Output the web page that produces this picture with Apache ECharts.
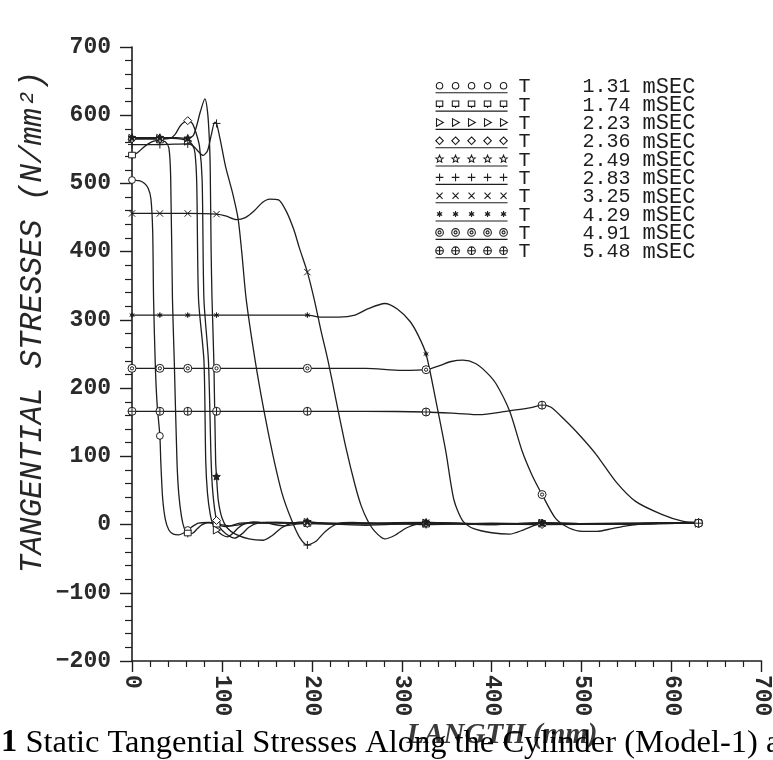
<!DOCTYPE html>
<html>
<head>
<meta charset="utf-8">
<script src="https://cdn.jsdelivr.net/npm/echarts@6/dist/echarts.min.js"></script>
<style>
html,body{margin:0;padding:0;background:#fff;}
#c{width:773px;height:760px;}
</style>
</head>
<body>
<div id="c"></div>
<script>
// ---- data (x: length mm, y: tangential stress N/mm^2) ----
const seriesNames = ['1.31','1.74','2.23','2.36','2.49','2.83','3.25','4.29','4.91','5.48'];
const markerX = [0,31,62,94,195,327,456,630];
const xTicks = [0,100,200,300,400,500,600,700];
const yTicks = [-200,-100,0,100,200,300,400,500,600,700];

const t131 = [[0,505],[8,504],[14,500],[18,493],[21,478],[23,430],[24,330],[26,230],[28,175],[31,130],[32,93],[34,40],[37,8],[41,-8],[46,-14],[52,-15],[58,-12],[62,-8],[67,-3],[74,2],[84,3],[94,1],[110,-2],[130,2],[160,3],[195,2],[250,1],[327,2],[400,1],[456,2],[540,1],[630,3]];
const t174 = [[0,541],[6,545],[12,552],[18,558],[24,562],[31,563],[37,561],[41,552],[43,510],[45,330],[47,240],[50,93],[52,45],[55,12],[58,-5],[62,-13],[67,-13],[72,-7],[78,0],[86,3],[94,0],[105,-3],[120,2],[150,3],[195,1],[260,2],[327,0],[400,2],[456,1],[540,2],[630,2]];
const t223 = [[0,566],[31,566],[45,566],[55,565],[62,562],[67,557],[70,545],[72,500],[74,330],[80,240],[82,93],[84,45],[87,15],[90,0],[94,-8],[100,-15],[106,-18],[112,-13],[118,-5],[125,1],[135,4],[150,2],[170,-2],[195,3],[260,1],[327,2],[400,0],[456,2],[540,1],[630,2]];
const t236 = [[0,565],[31,565],[42,566],[48,572],[54,585],[62,592],[67,588],[71,575],[75,555],[78,505],[80,330],[85,240],[88,93],[90,45],[94,6],[98,-5],[104,-13],[114,-20],[122,-14],[130,-4],[140,2],[160,3],[195,2],[260,-1],[327,2],[400,1],[456,0],[540,1],[630,2]];
const t249 = [[0,567],[31,567],[50,567],[62,566],[68,570],[72,585],[76,605],[81,624],[84,605],[86,565],[87,520],[88,400],[89,330],[91,240],[93,93],[94,70],[96,35],[100,10],[106,-5],[115,-14],[130,-21],[146,-23],[156,-16],[166,-5],[178,2],[195,4],[220,1],[260,2],[327,3],[400,1],[456,2],[540,1],[630,3]];
const t283 = [[0,557],[31,557],[62,558],[68,555],[73,548],[79,541],[84,548],[88,570],[92,590],[94,588],[98,565],[104,525],[112,485],[118,448],[122,400],[127,330],[137,240],[147,165],[157,100],[167,45],[177,8],[186,-18],[195,-30],[205,-24],[215,-10],[228,1],[245,3],[280,1],[327,2],[400,0],[456,2],[540,1],[630,2]];
const t325 = [[0,456],[31,456],[62,456],[94,455],[105,452],[116,447],[126,450],[136,460],[145,472],[153,477],[163,476],[172,458],[180,432],[186,406],[195,370],[203,328],[210,285],[218,240],[228,175],[238,112],[248,58],[255,27],[262,6],[270,-10],[281,-21],[292,-16],[305,-5],[318,1],[327,3],[380,1],[456,2],[540,1],[630,3]];
const t429 = [[0,307],[31,307],[62,307],[94,307],[150,307],[195,307],[210,304],[230,304],[248,307],[262,316],[281,324],[295,316],[309,298],[318,278],[327,250],[338,181],[349,107],[358,36],[368,5],[380,-6],[400,-12],[420,-14],[435,-8],[446,-2],[456,2],[500,1],[570,2],[630,3]];
const t491 = [[0,229],[31,229],[62,229],[94,229],[195,229],[260,229],[300,226],[327,227],[342,233],[355,239],[368,241],[382,236],[395,222],[405,206],[420,166],[434,107],[445,72],[456,44],[471,9],[486,-5],[501,-10],[517,-10],[534,-6],[550,-2],[570,1],[600,2],[630,2]];
const t548 = [[0,166],[31,166],[62,166],[94,166],[195,166],[260,166],[327,165],[360,163],[386,161],[416,166],[442,171],[456,175],[466,172],[480,155],[497,132],[516,103],[538,63],[560,34],[589,15],[612,5],[630,2]];
const seriesData = [t131,t174,t223,t236,t249,t283,t325,t429,t491,t548];

// ---- marker shapes ----
const shapes = ['circle','square','triRight','diamond','star','plus','cross','asterisk','circleDot','circlePlus'];
const filled = [false,false,false,false,true,false,false,true,false,false];

function f(n){return (Math.round(n*100)/100).toString();}
function circ(cx,cy,r){return `M${f(cx+r)},${f(cy)} A${f(r)},${f(r)} 0 1,1 ${f(cx-r)},${f(cy)} A${f(r)},${f(r)} 0 1,1 ${f(cx+r)},${f(cy)} Z `;}
function shapePath(kind,cx,cy,r){
  switch(kind){
    case 'circle': return circ(cx,cy,r*0.85) + `M${f(cx)},${f(cy+r*0.85)} L${f(cx)},${f(cy+r)} `;
    case 'square': return `M${f(cx-r*0.85)},${f(cy-r*0.8)} L${f(cx+r*0.85)},${f(cy-r*0.8)} L${f(cx+r*0.85)},${f(cy+r*0.6)} L${f(cx-r*0.85)},${f(cy+r*0.6)} Z M${f(cx)},${f(cy+r*0.6)} L${f(cx)},${f(cy+r)} `;
    case 'triRight': return `M${f(cx-r*0.8)},${f(cy-r)} L${f(cx+r)},${f(cy)} L${f(cx-r*0.8)},${f(cy+r)} Z `;
    case 'diamond': return `M${f(cx)},${f(cy-r)} L${f(cx+r)},${f(cy)} L${f(cx)},${f(cy+r)} L${f(cx-r)},${f(cy)} Z `;
    case 'star': {
      let s='';
      for(let k=0;k<10;k++){
        const a=-Math.PI/2+k*Math.PI/5, rr=(k%2===0)?r:r*0.45;
        s+=(k===0?'M':'L')+f(cx+rr*Math.cos(a))+','+f(cy+rr*Math.sin(a))+' ';
      }
      return s+'Z ';
    }
    case 'plus': return `M${f(cx-r)},${f(cy)} L${f(cx+r)},${f(cy)} M${f(cx)},${f(cy-r)} L${f(cx)},${f(cy+r)} `;
    case 'cross': return `M${f(cx-r*0.8)},${f(cy-r*0.8)} L${f(cx+r*0.8)},${f(cy+r*0.8)} M${f(cx-r*0.8)},${f(cy+r*0.8)} L${f(cx+r*0.8)},${f(cy-r*0.8)} `;
    case 'asterisk': {
      let s='';
      for(let k=0;k<3;k++){
        const a=Math.PI/2+k*Math.PI/3;
        s+=`M${f(cx+r*0.8*Math.cos(a))},${f(cy+r*0.8*Math.sin(a))} L${f(cx-r*0.8*Math.cos(a))},${f(cy-r*0.8*Math.sin(a))} `;
      }
      return s + circ(cx,cy,r*0.35);
    }
    case 'circleDot': return circ(cx,cy,r) + circ(cx,cy,r*0.4);
    case 'circlePlus': return circ(cx,cy,r) + `M${f(cx-r)},${f(cy)} L${f(cx+r)},${f(cy)} M${f(cx)},${f(cy-r)} L${f(cx)},${f(cy+r)} `;
  }
}
function symbolPath(kind){
  return 'path://M-5,-5 M5,5 ' + shapePath(kind,0,0,5);
}
function legendPath(kind){
  let s='M0,0 ';
  for(let i=0;i<5;i++){ s += shapePath(kind, 4+i*16, 4.5, 3.8); }
  s += 'M0,11.5 L72,11.5';
  return 'path://' + s;
}

const INK = '#1e1e1e';
const series = seriesData.map((d,i)=>({
  type:'line',
  name: seriesNames[i],
  data: d.map(p => markerX.indexOf(p[0])>=0 ? {value:p} : {value:p, symbol:'none'}),
  smooth: 0.25,
  symbol: symbolPath(shapes[i]),
  symbolSize: shapes[i]==='asterisk' ? 7 : 8,
  showSymbol: true,
  showAllSymbol: true,
  lineStyle:{color:INK, width:1.3},
  itemStyle:{color: filled[i] ? INK : '#ffffff', borderColor:INK, borderWidth:1},
  emphasis:{disabled:true},
  silent:true,
  animation:false,
  z: 2
}));

const chart = echarts.init(document.getElementById('c'), null, {renderer:'canvas'});
const labelFont = {fontFamily:'"Liberation Mono", monospace', fontWeight:'bold', fontSize:23, color:'#2a2a2a'};
const monoRich = {fontFamily:'"Liberation Mono", monospace', fontSize:20};
chart.setOption({
  backgroundColor:'#ffffff',
  animation:false,
  grid:{left:132, right:10, top:47, bottom:99, containLabel:false},
  xAxis:{
    type:'value', min:xTicks[0], max:xTicks[xTicks.length-1], interval:100,
    axisLine:{show:true, onZero:false, lineStyle:{color:INK, width:1.6}},
    axisTick:{show:true, length:11, lineStyle:{color:INK, width:1.4}},
    minorTick:{show:true, splitNumber:5, length:6, lineStyle:{color:INK, width:1.2}},
    splitLine:{show:false},
    axisLabel:Object.assign({rotate:-90, margin:14, showMinLabel:true, showMaxLabel:true}, labelFont)
  },
  yAxis:{
    type:'value', min:yTicks[0], max:yTicks[yTicks.length-1], interval:100,
    axisLine:{show:true, onZero:false, lineStyle:{color:INK, width:1.6}},
    axisTick:{show:true, length:12, lineStyle:{color:INK, width:1.4}},
    minorTick:{show:true, splitNumber:5, length:7, lineStyle:{color:INK, width:1.2}},
    splitLine:{show:false},
    axisLabel:Object.assign({margin:21, formatter:v => v<0 ? '\u2212'+Math.abs(v) : String(v)}, labelFont)
  },
  legend:{
    orient:'vertical', left:435, top:76, padding:0, itemGap:-3.67,
    itemWidth:72, itemHeight:12, selectedMode:false,
    data: seriesNames.map((n,i)=>({name:n, icon:legendPath(shapes[i])})),
    itemStyle:{color:'rgba(0,0,0,0)', borderColor:INK, borderWidth:1.1},
    lineStyle:{width:0},
    formatter: n => `{t|T}{n|${n}}{u|mSEC}`,
    textStyle:Object.assign({color:INK, rich:{
        t:Object.assign({width:64, padding:[0,0,0,6]}, monoRich),
        n:Object.assign({width:60}, monoRich),
        u:Object.assign({}, monoRich, {fontSize:22})
      }}, monoRich)
  },
  graphic:[
    {type:'text', x:33, y:322, rotation:Math.PI/2, z:10,
     style:{text:'TANGENTIAL STRESSES (N/mm\u00B2)', font:'italic 31px "Liberation Mono", monospace', fill:'#262626',
            align:'center', verticalAlign:'middle', textAlign:'center', textVerticalAlign:'middle'}},
    {type:'text', x:502, y:736, z:10,
     style:{text:'LANGTH (mm)', font:'italic bold 29px "Liberation Serif", serif', fill:'#3a3a3a',
            align:'center', verticalAlign:'middle', textAlign:'center', textVerticalAlign:'middle'}},
    {type:'text', x:1, y:743, z:11,
     style:{text:'{b|1} Static Tangential Stresses Along the Cylinder (Model-1) at',
            font:'32.5px "Liberation Serif", serif', fill:'#000',
            verticalAlign:'middle', textVerticalAlign:'middle',
            rich:{b:{fontWeight:'bold', fontSize:32.5, fontFamily:'"Liberation Serif", serif', fill:'#000'}}}}
  ],
  series: series
});
</script>
</body>
</html>
